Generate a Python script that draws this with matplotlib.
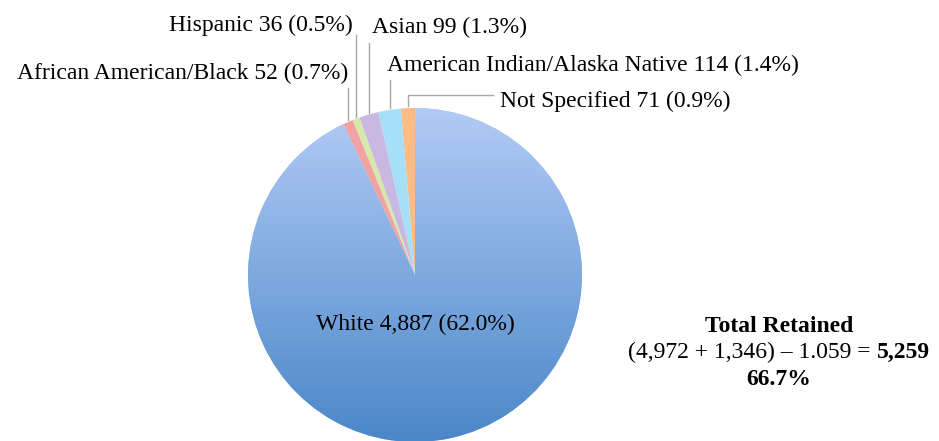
import numpy as np
import matplotlib
matplotlib.use("Agg")
import matplotlib.pyplot as plt
from matplotlib.colors import LinearSegmentedColormap

plt.rcParams['font.family'] = ['Liberation Serif', 'DejaVu Serif']

# data, in drawing order (counter-clockwise from 12 o'clock)
categories = ["Not Specified", "American Indian/Alaska Native", "Asian",
              "Hispanic", "African American/Black", "White"]
counts = [71, 114, 99, 36, 52, 4887]
count_labels = ["71", "114", "99", "36", "52", "4,887"]
pct_labels = ["0.9%", "1.4%", "1.3%", "0.5%", "0.7%", "62.0%"]
colors = ["#fdbb85", "#a6e0f8", "#c9b9e2", "#d5e9a9", "#f1a3a3", "#aac4f3"]

W, H = 939, 441
fig = plt.figure(figsize=(W / 100, H / 100), dpi=100)
ax = fig.add_axes([0, 0, 1, 1])

cx, cy, r = 415, H - 275, 167
wedges, _ = ax.pie(counts, startangle=90, counterclock=True, colors=colors,
                   center=(cx, cy), radius=r, frame=True,
                   wedgeprops=dict(linewidth=0))

# gradient fill for the big slice
grad = LinearSegmentedColormap.from_list("w", ["#4a87c8", "#b2cbf6"])
img = np.linspace(0, 1, 256).reshape(-1, 1)
im = ax.imshow(img, cmap=grad, origin="lower", aspect="auto",
               extent=(cx - r, cx + r, cy - r, cy + r), zorder=wedges[-1].get_zorder())
im.set_clip_path(wedges[-1])

ax.set_xlim(0, W)
ax.set_ylim(0, H)
ax.set_aspect("equal")
ax.axis("off")

fs = 17
line_col = "#a6a6a6"

# label positions (x, baseline y in pixels from top) and leader line ends
label_xy = [(500, 107), (387, 71), (372, 33), (353, 31), (348, 79)]
label_ha = ["left", "left", "left", "right", "right"]
line_top = [95, 80, 43, 35, 88]

for i in range(5):
    w = wedges[i]
    mid = np.deg2rad((w.theta1 + w.theta2) / 2)
    ex = cx + r * np.cos(mid)
    ey = cy + r * np.sin(mid) + 2
    ty = H - line_top[i]
    if i == 0:
        ax.plot([ex, ex, 493], [ey, ty, ty], color=line_col, lw=1)
    else:
        ax.plot([ex, ex], [ey, ty], color=line_col, lw=1)
    txt = f"{categories[i]} {count_labels[i]} ({pct_labels[i]})"
    lx, ly = label_xy[i]
    ax.text(lx, H - ly, txt, ha=label_ha[i], va="baseline", fontsize=fs)

ax.text(415, H - 330, f"{categories[5]} {count_labels[5]} ({pct_labels[5]})",
        ha="center", va="baseline", fontsize=fs)

# total retained block
tx = 779
ax.text(tx, H - 332, "Total Retained", ha="center", va="baseline",
        fontsize=fs, fontweight="bold")
a = ax.text(0, H - 358, "(4,972 + 1,346) – 1.059 = ", ha="left", va="baseline", fontsize=fs)
b = ax.text(0, H - 358, "5,259", ha="left", va="baseline", fontsize=fs, fontweight="bold")
fig.canvas.draw()
rend = fig.canvas.get_renderer()
wa = a.get_window_extent(rend).width
wb = b.get_window_extent(rend).width
x0 = tx - (wa + wb) / 2
a.set_x(x0)
b.set_x(x0 + wa)
ax.text(tx, H - 385, "66.7%", ha="center", va="baseline", fontsize=fs, fontweight="bold")

fig.savefig("out.png", dpi=100)
